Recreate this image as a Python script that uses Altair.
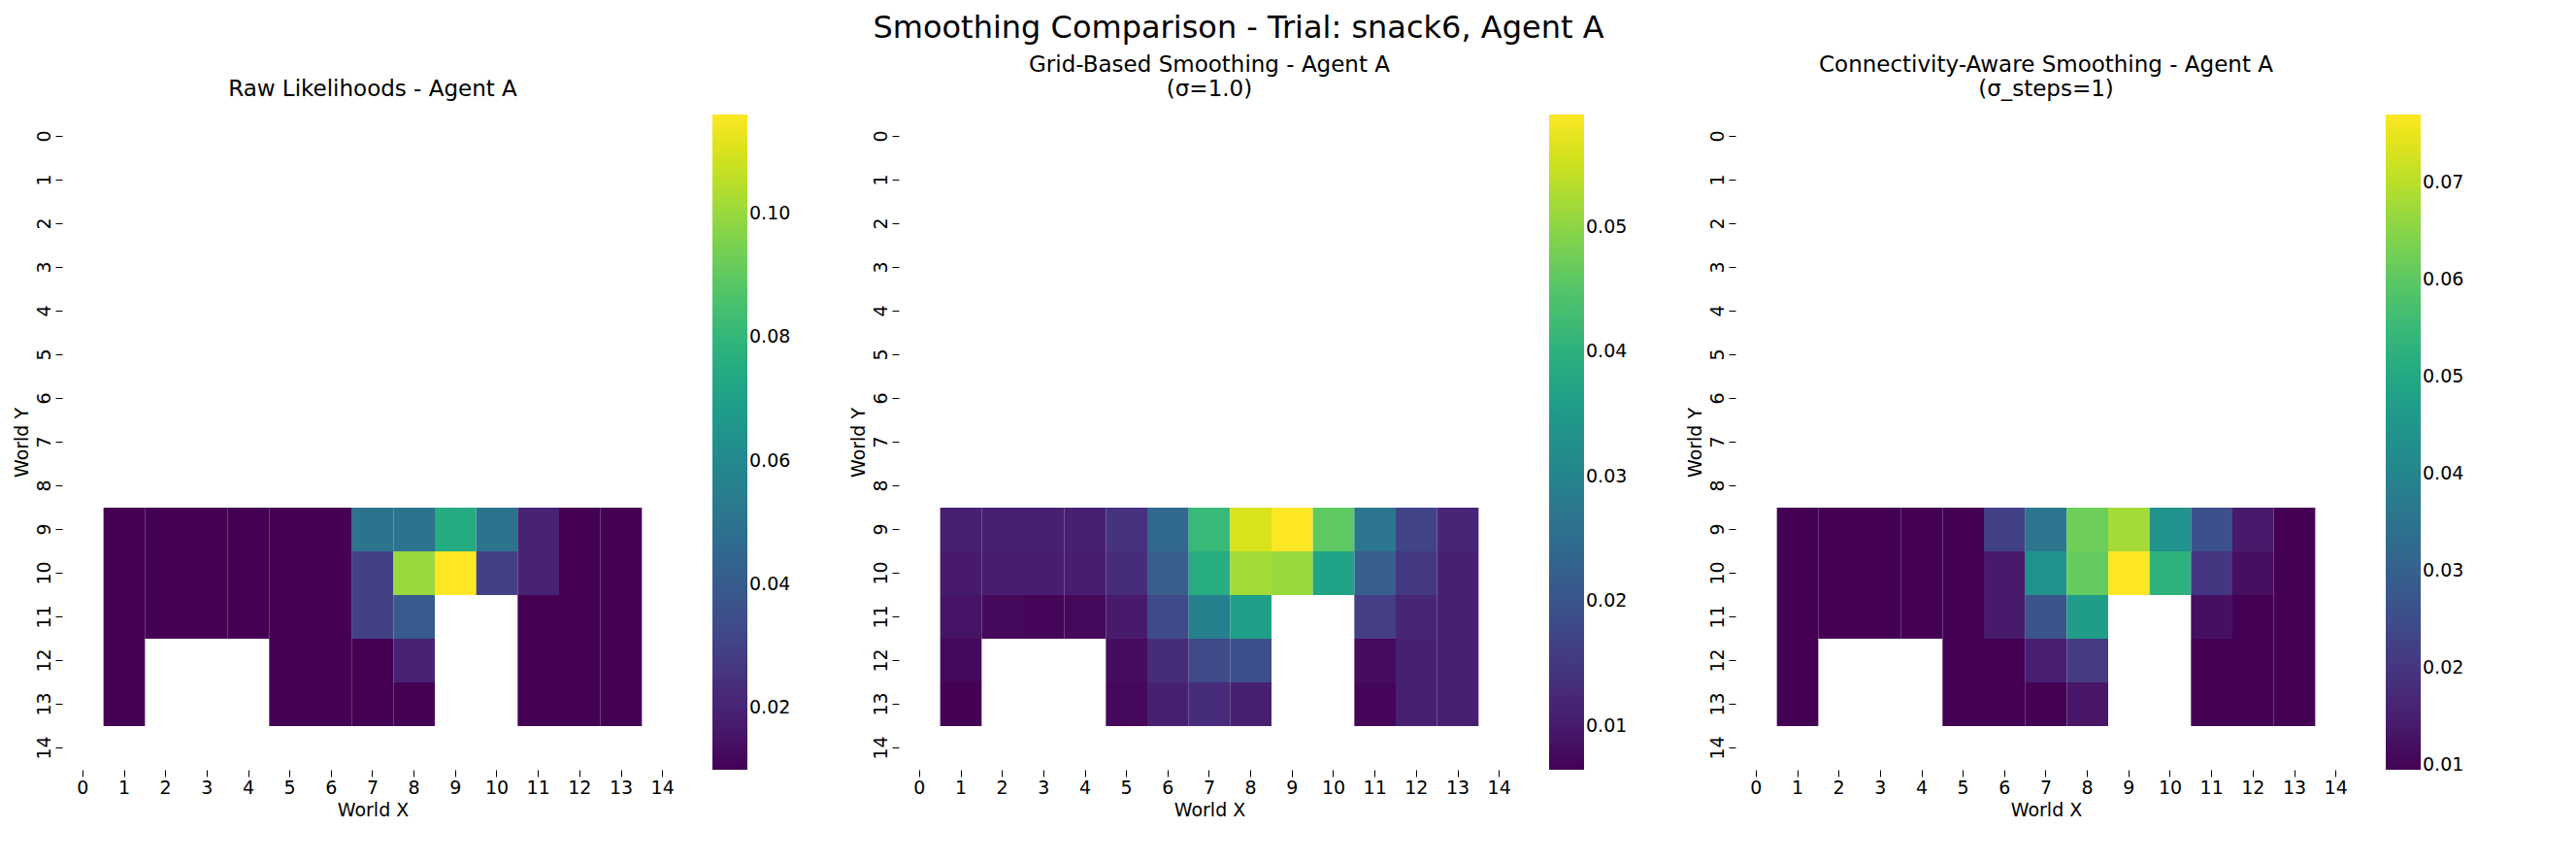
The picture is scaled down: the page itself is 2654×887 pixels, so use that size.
import pandas as pd
import altair as alt

xs = list(range(1, 14))
rows_y = [9, 10, 11, 12, 13]
N = None

raw_rows = [
    [0.01, 0.01, 0.01, 0.01, 0.01, 0.01, 0.05, 0.05, 0.075, 0.05, 0.02, 0.01, 0.01],
    [0.01, 0.01, 0.01, 0.01, 0.01, 0.01, 0.03, 0.10, 0.116, 0.03, 0.02, 0.01, 0.01],
    [0.01, 0.01, 0.01, 0.01, 0.01, 0.01, 0.03, 0.04, N, N, 0.01, 0.01, 0.01],
    [0.01, N, N, N, 0.01, 0.01, 0.01, 0.02, N, N, 0.01, 0.01, 0.01],
    [0.01, N, N, N, 0.01, 0.01, 0.01, 0.01, N, N, 0.01, 0.01, 0.01],
]
grid_rows = [
    [0.011, 0.011, 0.011, 0.011, 0.014, 0.024, 0.042, 0.056, 0.059, 0.046, 0.027, 0.017, 0.012],
    [0.010, 0.0105, 0.0105, 0.0105, 0.013, 0.022, 0.039, 0.052, 0.051, 0.037, 0.022, 0.015, 0.011],
    [0.009, 0.0075, 0.007, 0.0075, 0.010, 0.018, 0.029, 0.036, N, N, 0.016, 0.012, 0.011],
    [0.0075, N, N, N, 0.008, 0.013, 0.018, 0.019, N, N, 0.008, 0.011, 0.011],
    [0.0065, N, N, N, 0.0075, 0.011, 0.013, 0.011, N, N, 0.007, 0.011, 0.011],
]
conn_rows = [
    [0.0095, 0.0095, 0.0095, 0.0095, 0.0095, 0.022, 0.036, 0.062, 0.068, 0.044, 0.026, 0.014, 0.0095],
    [0.0095, 0.0095, 0.0095, 0.0095, 0.0095, 0.014, 0.044, 0.061, 0.077, 0.053, 0.020, 0.012, 0.0095],
    [0.0095, 0.0095, 0.0095, 0.0095, 0.0095, 0.014, 0.027, 0.047, N, N, 0.012, 0.0095, 0.0095],
    [0.0095, N, N, N, 0.0095, 0.0095, 0.015, 0.021, N, N, 0.0095, 0.0095, 0.0095],
    [0.0095, N, N, N, 0.0095, 0.0095, 0.0095, 0.013, N, N, 0.0095, 0.0095, 0.0095],
]

ticks = list(range(15))
FONT = "DejaVu Sans"


def to_frame(rows):
    recs = []
    for y, row in zip(rows_y, rows):
        for x, v in zip(xs, row):
            if v is not None:
                recs.append({"x": x, "y": y, "v": v})
    return pd.DataFrame(recs)


def panel(rows, title, domain, legend_vals):
    df = to_frame(rows)
    return alt.Chart(df, title=alt.Title(title, fontSize=23, fontWeight="normal", font=FONT, offset=14)).mark_rect(
        strokeWidth=0
    ).encode(
        x=alt.X("x:O", scale=alt.Scale(domain=ticks, paddingInner=0, paddingOuter=0),
                axis=alt.Axis(title="World X", labelAngle=0)),
        y=alt.Y("y:O", scale=alt.Scale(domain=ticks, paddingInner=0, paddingOuter=0),
                axis=alt.Axis(title="World Y", labelAngle=-90, labelAlign="center", labelBaseline="bottom")),
        color=alt.Color("v:Q", scale=alt.Scale(scheme="viridis", domain=domain),
                        legend=alt.Legend(title=None, values=legend_vals, format=".2f",
                                          gradientLength=675, gradientThickness=36,
                                          labelFontSize=19, offset=30)),
    ).properties(width=640, height=675)


p1 = panel(raw_rows, "Raw Likelihoods - Agent A", [0.01, 0.116], [0.02, 0.04, 0.06, 0.08, 0.10])
p2 = panel(grid_rows, ["Grid-Based Smoothing - Agent A", "(σ=1.0)"], [0.0065, 0.059], [0.01, 0.02, 0.03, 0.04, 0.05])
p3 = panel(conn_rows, ["Connectivity-Aware Smoothing - Agent A", "(σ_steps=1)"], [0.0095, 0.077], [0.01, 0.02, 0.03, 0.04, 0.05, 0.06, 0.07])

chart = alt.hconcat(p1, p2, p3, spacing=60).resolve_scale(color="independent").properties(
    title=alt.Title("Smoothing Comparison - Trial: snack6, Agent A", fontSize=32, fontWeight="normal",
                    font=FONT, anchor="middle", offset=10)
).configure_axis(
    labelFontSize=19, titleFontSize=19, titleFontWeight="normal", domain=False, grid=False,
    labelFont=FONT, titleFont=FONT, tickSize=7, tickColor="black", labelColor="black", titleColor="black",
).configure_legend(labelFont=FONT, labelColor="black").configure_view(stroke=None)

chart.save("out.html", embed_options={"renderer": "svg", "actions": False})
